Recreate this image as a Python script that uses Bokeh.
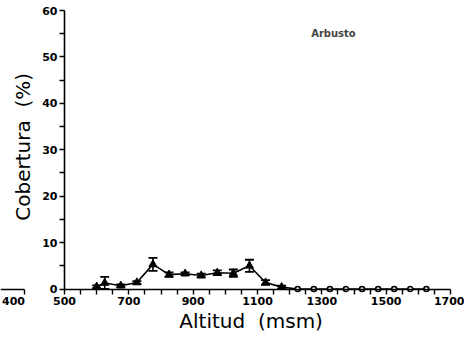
from bokeh.plotting import figure
from bokeh.models import (ColumnDataSource, Whisker, TeeHead, FixedTicker,
                          Label, Range1d, LinearAxis)
from bokeh.embed import file_html
from bokeh.resources import INLINE

# Shrub cover (%) by altitude band (m a.s.l.), mean and error
altitud = [600, 625, 675, 725, 775, 825, 875, 925, 975, 1025, 1075,
           1125, 1175, 1225, 1275, 1325, 1375, 1425, 1475, 1525, 1575, 1625]
cobertura = [0.5, 1.3, 0.7, 1.4, 5.3, 3.1, 3.3, 2.9, 3.5, 3.4, 5.0,
             1.4, 0.4, 0, 0, 0, 0, 0, 0, 0, 0, 0]
error = [0.3, 1.3, 0.3, 0.3, 1.4, 0.5, 0.3, 0.4, 0.5, 0.8, 1.3,
         0.5, 0.3, 0, 0, 0, 0, 0, 0, 0, 0, 0]

x_ticks = list(range(500, 1701, 50))
x_labels = {500: "500", 700: "700", 900: "900", 1100: "1100",
            1300: "1300", 1500: "1500", 1700: "1700"}
y_ticks = list(range(0, 61, 5))
y_labels = {0: "0", 10: "10", 20: "20", 30: "30", 40: "40", 50: "50", 60: "60"}

panel_title = "Arbusto"
neighbour_label = "400"   # last tick label of the panel to the left

TICK_FONT = "DejaVu Sans"
TITLE_FONT = "DejaVu Sans"
W, H = 464, 337
# pixel extent of the axes box inside the canvas
LEFT, RIGHT, TOP, BOTTOM = 64, 14, 10, 48.5
X0, X1 = 500, 1700
Y0, Y1 = 0, 60

# the plotting area spans the whole canvas, so the axes sit at fixed
# data locations and the cut-off neighbour axis on the left stays visible
ux = (X1 - X0) / (W - LEFT - RIGHT)
uy = (Y1 - Y0) / (H - TOP - BOTTOM)
x_range = Range1d(X0 - LEFT * ux, X1 + RIGHT * ux)
y_range = Range1d(Y0 - BOTTOM * uy, Y1 + TOP * uy)

p = figure(width=W, height=H, x_range=x_range, y_range=y_range,
           output_backend="svg", toolbar_location=None, min_border=0)
p.outline_line_color = None
p.grid.visible = False
p.background_fill_color = "white"
p.border_fill_color = "white"


def style_axis(ax):
    ax.axis_line_width = 1.6
    ax.axis_line_color = "black"
    ax.major_tick_line_width = 1.4
    ax.major_tick_line_color = "black"
    ax.major_tick_out = 5
    ax.major_tick_in = 0
    ax.minor_tick_line_color = None
    ax.major_label_text_font = TICK_FONT
    ax.major_label_text_font_style = "bold"
    ax.major_label_text_font_size = "11px"
    ax.major_label_text_color = "black"
    ax.axis_label_text_font = TITLE_FONT
    ax.axis_label_text_font_style = "normal"
    ax.axis_label_text_font_size = "20px"
    ax.axis_label_text_color = "black"


xa = p.xaxis[0]
ya = p.yaxis[0]
for ax in (xa, ya):
    style_axis(ax)
xa.fixed_location = Y0
xa.bounds = (X0, X1)
xa.ticker = FixedTicker(ticks=x_ticks)
xa.major_label_overrides = {t: x_labels.get(t, "") for t in x_ticks}
xa.major_label_standoff = 3
xa.axis_label = "Altitud\u00a0\u00a0(msm)\u00a0\u00a0"
xa.axis_label_standoff = 0

ya.fixed_location = X0
ya.bounds = (Y0, Y1)
ya.ticker = FixedTicker(ticks=y_ticks)
ya.major_label_overrides = {t: y_labels.get(t, "") for t in y_ticks}
ya.major_label_standoff = 2
ya.axis_label = "\u00a0Cobertura\u00a0\u00a0(%)"
ya.axis_label_standoff = 4

# cut-off tail of the neighbouring panel's axis: line with its end tick ...
tail_start = x_range.start
tail_end = X0 - 40 * ux
tail_label_at = X0 - 51 * ux
tail = LinearAxis(fixed_location=Y0, bounds=(tail_start, tail_end),
                  ticker=FixedTicker(ticks=[tail_end]))
style_axis(tail)
tail.major_label_overrides = {tail_end: ""}
p.add_layout(tail, "below")

# ... and its last tick label
tail_lab = LinearAxis(fixed_location=Y0, bounds=(tail_start, tail_end),
                      ticker=FixedTicker(ticks=[tail_label_at]))
style_axis(tail_lab)
tail_lab.axis_line_color = None
tail_lab.major_tick_line_color = None
tail_lab.major_tick_out = 5
tail_lab.major_label_standoff = 3
tail_lab.major_label_overrides = {tail_label_at: neighbour_label}
p.add_layout(tail_lab, "below")

# series line
p.line(altitud, cobertura, line_color="black", line_width=1.6)

# error bars on the non-zero means
nz = [i for i, v in enumerate(cobertura) if v > 0]
src = ColumnDataSource(dict(
    x=[altitud[i] for i in nz],
    upper=[cobertura[i] + error[i] for i in nz],
    lower=[cobertura[i] - error[i] for i in nz],
))
p.add_layout(Whisker(base="x", upper="upper", lower="lower", source=src,
                     dimension="height", line_color="black", line_width=1.6,
                     upper_head=TeeHead(size=9, line_width=1.8, line_color="black"),
                     lower_head=TeeHead(size=9, line_width=1.8, line_color="black")))

# markers: filled triangles where cover > 0, open circles at zero
p.scatter([altitud[i] for i in nz], [cobertura[i] for i in nz],
          marker="triangle", size=8, fill_color="black", line_color="black")
z = [i for i, v in enumerate(cobertura) if v == 0]
p.scatter([altitud[i] for i in z], [cobertura[i] for i in z],
          marker="circle", size=5, fill_color="white", line_color="black",
          line_width=1.6)

p.add_layout(Label(x=1336, y=55, text=panel_title, text_font=TICK_FONT,
                   text_font_style="bold", text_font_size="10px",
                   text_align="center", text_baseline="middle"))

open("out.html", "w").write(file_html(p, INLINE))
